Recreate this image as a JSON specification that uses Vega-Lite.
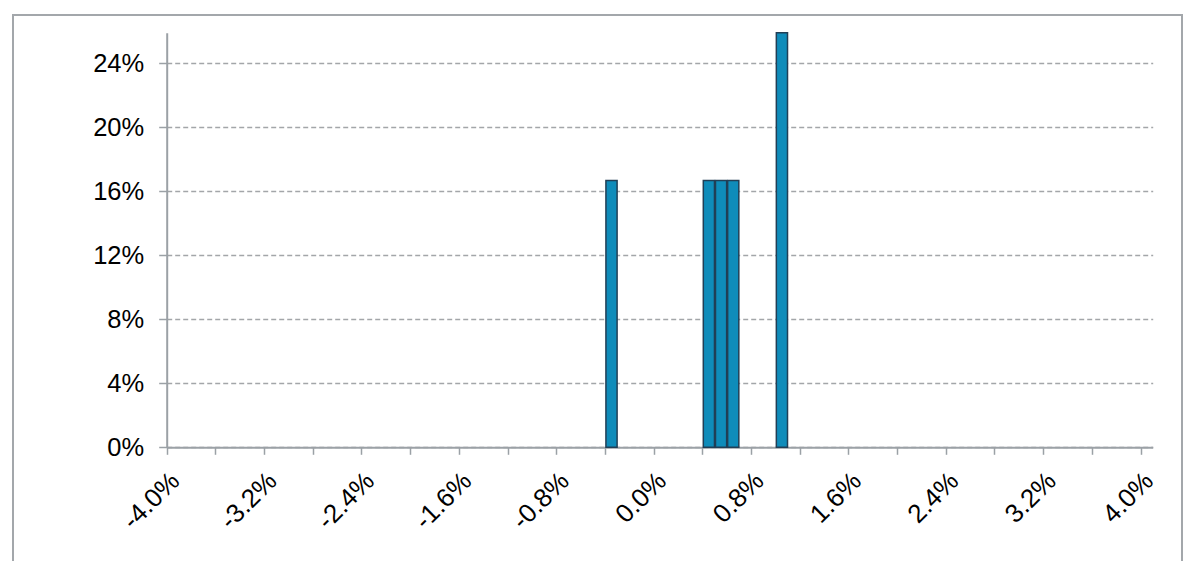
{
  "$schema": "https://vega.github.io/schema/vega-lite/v6.json",
  "autosize": "none",
  "padding": {"left": 13, "top": 15, "right": 5, "bottom": -4},
  "width": 1169,
  "height": 550,
  "background": "white",
  "config": {
    "view": {"stroke": "#a3a7ab", "strokeWidth": 2},
    "font": "Liberation Sans"
  },
  "data": {
    "values": [
      {"bin_start": -0.004, "bin_end": -0.003, "share": 0.1667},
      {"bin_start": 0.004, "bin_end": 0.005, "share": 0.1667},
      {"bin_start": 0.005, "bin_end": 0.006, "share": 0.1667},
      {"bin_start": 0.006, "bin_end": 0.007, "share": 0.1667},
      {"bin_start": 0.010, "bin_end": 0.011, "share": 0.3333}
    ]
  },
  "mark": {"type": "bar", "fill": "#0f8cba", "stroke": "#213f56", "strokeWidth": 1.5},
  "encoding": {
    "x": {
      "field": "bin_start",
      "type": "quantitative",
      "bin": "binned",
      "scale": {"domain": [-0.04, 0.041], "range": [153.7, 1139.7], "nice": false, "zero": false},
      "axis": {
        "title": null,
        "offset": -117.7,
        "values": [-0.04, -0.036, -0.032, -0.028, -0.024, -0.02, -0.016, -0.012, -0.008, -0.004, 0, 0.004, 0.008, 0.012, 0.016, 0.02, 0.024, 0.028, 0.032, 0.036, 0.04],
        "labelExpr": "abs(round(datum.value*1000)) % 8 == 0 ? (datum.value < -0.0001 ? '-' : '') + format(abs(datum.value), '.1%') : ''",
        "labelAngle": -45,
        "labelAlign": "right",
        "labelBaseline": "top",
        "labelOffset": -1,
        "labelPadding": 13,
        "labelFontSize": 26,
        "labelColor": "#000000",
        "labelFont": "Liberation Sans",
        "labelOverlap": false,
        "labelBound": false,
        "labelFlush": false,
        "tickSize": 7,
        "tickColor": "#9ba1a6",
        "tickWidth": 1.5,
        "domainColor": "#9ba1a6",
        "domainWidth": 2,
        "grid": false
      }
    },
    "x2": {"field": "bin_end"},
    "y": {
      "field": "share",
      "type": "quantitative",
      "scale": {"domain": [0, 0.259], "range": [432.3, 17.7], "nice": false, "zero": false, "clamp": true},
      "axis": {
        "title": null,
        "offset": -153.7,
        "values": [0, 0.04, 0.08, 0.12, 0.16, 0.2, 0.24],
        "format": ".0%",
        "labelFontSize": 25.5,
        "labelColor": "#000000",
        "labelFont": "Liberation Sans",
        "labelPadding": 15,
        "tickSize": 8,
        "tickColor": "#9ba1a6",
        "tickWidth": 1.5,
        "domainColor": "#9ba1a6",
        "domainWidth": 2,
        "grid": true,
        "gridColor": "#a3a6a9",
        "gridWidth": 1.5,
        "gridDash": [5, 3]
      }
    }
  }
}
